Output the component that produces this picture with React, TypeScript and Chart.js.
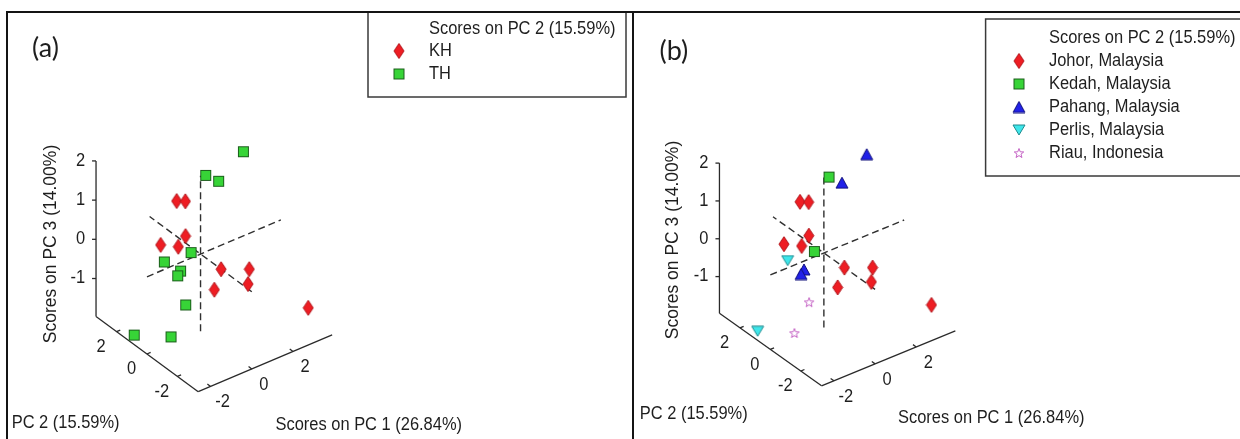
import React, { useEffect, useRef } from 'react';
import { Chart, registerables } from 'chart.js';

Chart.register(...registerables);

type P3 = [number, number, number];

// ---------------- data: scores [PC1, PC2, PC3] ----------------
const johor: P3[] = [
  [-0.42, 1.0, 1.16],
  [0.0, 1.0, 1.06],
  [-0.83, 1.5, -0.01],
  [-0.71, 0.5, 0.2],
  [-0.73, 0.0, 0.62],
  [0.26, -1.0, -0.16],
  [1.26, -1.5, -0.24],
  [0.83, -2.0, -0.38],
  [0.67, 0.0, -1.06],
  [3.75, -2.0, -1.64],
];
const kedah: P3[] = [
  [0.25, 0.0, 1.95],
  [-0.46, 0.0, 0.14],
];
const pahang: P3[] = [
  [0.88, 0.0, 1.66],
  [2.45, 0.5, 1.92],
  [-0.23, 1.0, -0.67],
  [-0.37, 1.0, -0.76],
];
const perlis: P3[] = [
  [-1.02, 1.0, -0.26],
  [-2.48, 1.0, -1.8],
];
const riau: P3[] = [
  [0.02, 1.0, -1.59],
  [-1.8, -0.5, -1.57],
];
const kh: P3[] = johor;
const th: P3[] = [...kedah, ...pahang, ...perlis, ...riau];

const pc1Ticks = [-2, 0, 2];
const pc2Ticks = [-2, 0, 2];
const pc3Ticks = [-1, 0, 1, 2];
const pc1Range = [-2.6, 3.9];
const pc2Range = [-3.37, 3.35];
const pc3Range = [-1.97, 2.0];

const pc1Title = 'Scores on PC 1 (26.84%)';
const pc2Title = 'PC 2 (15.59%)';
const pc3Title = 'Scores on PC 3 (14.00%)';
const legendTitle = 'Scores on PC 2 (15.59%)';

// ---------------- projection (view geometry) ----------------
const E1 = [21, 9];
const E2 = [-15.5, 11.5];
const E3 = [0, 40.3];
function project(p: P3) {
  return {
    x: p[0] * E1[0] + p[1] * E2[0] + p[2] * E3[0],
    y: p[0] * E1[1] + p[1] * E2[1] + p[2] * E3[1],
  };
}

// ---------------- markers ----------------
function makeMarker(kind: string): HTMLCanvasElement {
  const c = document.createElement('canvas');
  const ctx = c.getContext('2d')!;
  ctx.lineWidth = 1;
  if (kind === 'diamond') {
    c.width = 12; c.height = 17;
    ctx.beginPath();
    ctx.moveTo(6, 1); ctx.lineTo(11, 8.5); ctx.lineTo(6, 16); ctx.lineTo(1, 8.5); ctx.closePath();
    ctx.fillStyle = '#ee1d23'; ctx.fill();
    ctx.strokeStyle = '#b0141a'; ctx.stroke();
  } else if (kind === 'square') {
    c.width = 13; c.height = 13;
    ctx.fillStyle = '#37d437'; ctx.fillRect(1.5, 1.5, 10, 10);
    ctx.strokeStyle = '#1c5e1c'; ctx.strokeRect(1.5, 1.5, 10, 10);
  } else if (kind === 'triUp') {
    c.width = 14; c.height = 13;
    ctx.beginPath();
    ctx.moveTo(7, 1); ctx.lineTo(13, 12); ctx.lineTo(1, 12); ctx.closePath();
    ctx.fillStyle = '#2121e8'; ctx.fill();
    ctx.strokeStyle = '#10107a'; ctx.stroke();
  } else if (kind === 'triDown') {
    c.width = 14; c.height = 12;
    ctx.beginPath();
    ctx.moveTo(1, 1); ctx.lineTo(13, 1); ctx.lineTo(7, 11); ctx.closePath();
    ctx.fillStyle = '#3ee6ea'; ctx.fill();
    ctx.strokeStyle = '#1e8a8e'; ctx.stroke();
  } else {
    c.width = 12; c.height = 12;
    ctx.beginPath();
    for (let i = 0; i < 10; i++) {
      const r = i % 2 === 0 ? 5 : 2.1;
      const a = -Math.PI / 2 + (i * Math.PI) / 5;
      const x = 6 + r * Math.cos(a);
      const y = 6.5 + r * Math.sin(a);
      if (i === 0) ctx.moveTo(x, y); else ctx.lineTo(x, y);
    }
    ctx.closePath();
    ctx.strokeStyle = '#c462c4'; ctx.stroke();
  }
  return c;
}

// ---------------- text helper ----------------
const FONT = '"Liberation Sans", Arial, sans-serif';
function txt(ctx: CanvasRenderingContext2D, s: string, x: number, y: number, align: CanvasTextAlign,
  size = 17.5, sx = 0.94, rot = 0, family = FONT) {
  ctx.save();
  ctx.translate(x, y);
  if (rot) ctx.rotate(rot);
  ctx.scale(sx, 1);
  ctx.font = `${size}px ${family}`;
  ctx.textAlign = align;
  ctx.textBaseline = 'middle';
  ctx.fillStyle = '#1e1e1e';
  ctx.fillText(s, 0, 0);
  ctx.restore();
}

const axes3d = {
  id: 'axes3d',
  beforeDatasetsDraw(chart: any, _a: any, o: any) {
    const ctx: CanvasRenderingContext2D = chart.ctx;
    const X = (p: P3): [number, number] => {
      const q = project(p);
      return [chart.scales.x.getPixelForValue(q.x), chart.scales.y.getPixelForValue(q.y)];
    };
    const line = (a: number[], b: number[]) => {
      ctx.beginPath(); ctx.moveTo(a[0], a[1]); ctx.lineTo(b[0], b[1]); ctx.stroke();
    };
    const [x0, x1] = pc1Range;
    const [y0, y1] = pc2Range;
    const [z0, z1] = pc3Range;
    ctx.save();
    ctx.strokeStyle = '#2a2a2a';
    ctx.lineWidth = 1.3;
    line(X([x0, y1, z0]), X([x0, y1, z1]));
    line(X([x0, y1, z0]), X([x0, y0, z0]));
    line(X([x0, y0, z0]), X([x1, y0, z0]));
    for (const t of pc3Ticks) {
      const p = X([x0, y1, t]);
      line(p, [p[0] - 4, p[1]]);
      txt(ctx, String(t), p[0] - 11, p[1], 'right');
    }
    for (const t of pc2Ticks) {
      const p = X([x0, t, z0]);
      const q = X([x0 + 1, t, z0]);
      const d = Math.hypot(q[0] - p[0], q[1] - p[1]);
      line(p, [p[0] + ((q[0] - p[0]) / d) * 4, p[1] + ((q[1] - p[1]) / d) * 4]);
      txt(ctx, String(t), p[0] - 15.5, p[1] + 15.5, 'center');
    }
    for (const t of pc1Ticks) {
      const p = X([t, y0, z0]);
      const q = X([t, y0 + 1, z0]);
      const d = Math.hypot(q[0] - p[0], q[1] - p[1]);
      line(p, [p[0] + ((q[0] - p[0]) / d) * 4, p[1] + ((q[1] - p[1]) / d) * 4]);
      txt(ctx, String(t), p[0] + 12, p[1] + 16, 'center');
    }
    ctx.setLineDash([7, 4]);
    ctx.strokeStyle = '#303030';
    ctx.lineWidth = 1.4;
    line(X([x0, 0, 0]), X([x1, 0, 0]));
    line(X([0, y0, 0]), X([0, y1, 0]));
    line(X([0, 0, z0]), X([0, 0, z1]));
    ctx.restore();

    txt(ctx, pc3Title, o.pc3Pos[0], o.pc3Pos[1], 'center', 17.5, 1, -Math.PI / 2);
    txt(ctx, pc2Title, o.pc2Pos[0], o.pc2Pos[1], 'left');
    txt(ctx, pc1Title, o.pc1Pos[0], o.pc1Pos[1], 'left');
    txt(ctx, o.label, o.labelPos[0], o.labelPos[1], 'left', 27, 1, 0, 'Lato, "Liberation Sans", sans-serif');
  },
  afterDatasetsDraw(chart: any, _a: any, o: any) {
    const ctx: CanvasRenderingContext2D = chart.ctx;
    const L = o.legend;
    ctx.save();
    ctx.fillStyle = '#ffffff';
    ctx.fillRect(L.x, L.y, L.w, L.h);
    ctx.strokeStyle = '#3a3a3a';
    ctx.lineWidth = 1.5;
    ctx.strokeRect(L.x, L.y, L.w, L.h);
    ctx.restore();
    txt(ctx, legendTitle, L.textX, L.titleY, 'left');
    L.items.forEach((it: any, i: number) => {
      const y = L.rowY + i * L.step;
      const m: HTMLCanvasElement = it.marker;
      ctx.drawImage(m, L.markerX - m.width / 2, y - m.height / 2);
      txt(ctx, it.label, L.textX, y, 'left');
    });
  },
};

function makeConfig(panel: any) {
  const ox = panel.origin[0] - panel.left;
  const oy = panel.origin[1];
  const W = panel.width;
  const H = 439;
  return {
    type: 'scatter',
    data: {
      datasets: panel.series.map((s: any) => ({
        label: s.label,
        data: s.pts.map((p: P3) => project(p)),
        pointStyle: s.marker,
        pointRadius: 5,
        pointHoverRadius: 5,
        showLine: false,
      })),
    },
    options: {
      responsive: false,
      maintainAspectRatio: false,
      animation: false,
      events: [],
      layout: { padding: 0 },
      scales: {
        x: { type: 'linear', display: false, min: -ox, max: W - ox },
        y: { type: 'linear', display: false, min: -(H - oy) / panel.sy, max: oy / panel.sy },
      },
      plugins: {
        legend: { display: false },
        tooltip: { enabled: false },
        axes3d: {
          label: panel.label,
          labelPos: panel.labelPos,
          pc1Pos: panel.pc1Pos,
          pc2Pos: panel.pc2Pos,
          pc3Pos: panel.pc3Pos,
          legend: panel.legend,
        },
      },
    },
    plugins: [axes3d],
  } as any;
}

export default function App() {
  const refA = useRef<HTMLCanvasElement>(null);
  const refB = useRef<HTMLCanvasElement>(null);

  useEffect(() => {
    const diamond = makeMarker('diamond');
    const square = makeMarker('square');
    const triUp = makeMarker('triUp');
    const triDown = makeMarker('triDown');
    const star = makeMarker('star');

    const panelA = {
      left: 0, width: 633, origin: [198.3, 255], sy: 1,
      label: '(a)', labelPos: [32, 48],
      pc1Pos: [275.5, 425], pc2Pos: [11.7, 423], pc3Pos: [51, 244],
      series: [
        { label: 'KH', pts: kh, marker: diamond },
        { label: 'TH', pts: th, marker: square },
      ],
      legend: {
        x: 368, y: 12, w: 258, h: 85, titleY: 29, rowY: 51, step: 23, markerX: 399, textX: 429,
        items: [
          { label: 'KH', marker: diamond },
          { label: 'TH', marker: square },
        ],
      },
    };
    const LB = 633;
    const panelB = {
      left: LB, width: 607, origin: [821.6, 253.9], sy: 0.965,
      label: '(b)', labelPos: [659.5 - LB, 51],
      pc1Pos: [898 - LB, 418], pc2Pos: [639.8 - LB, 414], pc3Pos: [673.4 - LB, 240],
      series: [
        { label: 'Johor, Malaysia', pts: johor, marker: diamond },
        { label: 'Kedah, Malaysia', pts: kedah, marker: square },
        { label: 'Pahang, Malaysia', pts: pahang, marker: triUp },
        { label: 'Perlis, Malaysia', pts: perlis, marker: triDown },
        { label: 'Riau, Indonesia', pts: riau, marker: star },
      ],
      legend: {
        x: 985.6 - LB, y: 19, w: 270, h: 157, titleY: 38, rowY: 61, step: 23, markerX: 1019 - LB, textX: 1049 - LB,
        items: [
          { label: 'Johor, Malaysia', marker: diamond },
          { label: 'Kedah, Malaysia', marker: square },
          { label: 'Pahang, Malaysia', marker: triUp },
          { label: 'Perlis, Malaysia', marker: triDown },
          { label: 'Riau, Indonesia', marker: star },
        ],
      },
    };

    const a = new Chart(refA.current!, makeConfig(panelA));
    const b = new Chart(refB.current!, makeConfig(panelB));
    return () => {
      a.destroy();
      b.destroy();
    };
  }, []);

  const line = (s: React.CSSProperties) => (
    <div style={{ position: 'absolute', background: '#141414', ...s }} />
  );

  return (
    <div style={{ position: 'absolute', left: 0, top: 0, width: 1240, height: 439, background: '#fff', overflow: 'hidden' }}>
      <canvas ref={refA} width={633} height={439} style={{ position: 'absolute', left: 0, top: 0 }} />
      <canvas ref={refB} width={607} height={439} style={{ position: 'absolute', left: 633, top: 0 }} />
      {line({ left: 6, top: 11, width: 1234, height: 2 })}
      {line({ left: 6, top: 11, width: 2, height: 428 })}
      {line({ left: 632, top: 11, width: 2, height: 428 })}
    </div>
  );
}
